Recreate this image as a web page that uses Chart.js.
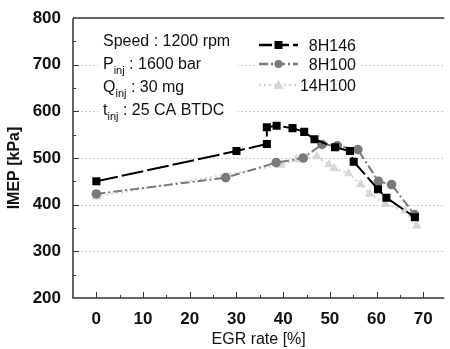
<!DOCTYPE html>
<html>
<head>
<meta charset="utf-8">
<script src="https://cdn.jsdelivr.net/npm/chart.js@4.4.1/dist/chart.umd.min.js"></script>
<style>
  html, body { margin: 0; padding: 0; background: #fff; }
  #wrap { width: 450px; height: 349px; position: relative; }
</style>
</head>
<body>
<div id="wrap"><canvas id="imepChart"></canvas></div>
<script>
// EGR rate [%] vs IMEP [kPa]
const egr8H146 = [0, 30, 36.5, 36.5, 38.6, 42, 44.5, 46.7, 51.1, 54.3, 55.1, 60.3, 62.1, 68.2];
const imep8H146 = [450, 515, 530, 566, 569, 564, 556, 540, 523, 515, 492, 433, 415, 373];

const egr8H100 = [0, 27.7, 38.5, 44.3, 48.3, 51.6, 56, 60.4, 63.2, 68.1];
const imep8H100 = [423, 458, 490, 500, 529, 526, 518, 450, 443, 379];

const egr14H100 = [0, 39.5, 42.8, 47.2, 49.8, 50.9, 54, 56.6, 58.5, 61.9, 66.1, 68.6];
const imep14H100 = [417, 485, 497, 503, 486, 478, 467, 444, 423, 401, 387, 355];

const seriesNames = ['8H146', '8H100', '14H100'];
const xTicks = [0, 10, 20, 30, 40, 50, 60, 70];
const yTicks = [200, 300, 400, 500, 600, 700, 800];
const conditions = [
    ['Speed : 1200 rpm', '', ''],
    ['P', 'inj', ' : 1600 bar'],
    ['Q', 'inj', ' : 30 mg'],
    ['t', 'inj', ' : 25 CA BTDC'],
];

const toPoints = (xs, ys) => xs.map((x, i) => ({ x, y: ys[i] }));
const FONT = "'Liberation Sans', Arial, sans-serif";

// ticks inside the frame, dotted grid, frame, legend and the text block
const decorPlugin = {
    id: 'decor',
    beforeDatasetsDraw(chart) {
        const { ctx, chartArea: a, scales: { x, y } } = chart;
        ctx.save();
        // dotted grid
        ctx.strokeStyle = '#c8c8c8';
        ctx.lineWidth = 1;
        ctx.setLineDash([2, 2]);
        yTicks.slice(1, -1).forEach(v => {
            const py = Math.round(y.getPixelForValue(v)) + 0.5;
            ctx.beginPath(); ctx.moveTo(a.left, py); ctx.lineTo(a.right, py); ctx.stroke();
        });
        ctx.setLineDash([]);

        // white boxes behind the text
        ctx.fillStyle = '#fff';
        ctx.fillRect(98, 28, 140, 95);
        ctx.fillRect(255, 32, 106, 64);

        // conditions text
        ctx.fillStyle = '#111';
        ctx.textBaseline = 'alphabetic';
        ctx.textAlign = 'left';
        conditions.forEach((c, i) => {
            const by = 46 + i * 23;
            let px = 103;
            ctx.font = `16px ${FONT}`;
            ctx.fillText(c[0], px, by);
            px += ctx.measureText(c[0]).width;
            if (c[1]) {
                ctx.font = `11px ${FONT}`;
                ctx.fillText(c[1], px, by + 5);
                px += ctx.measureText(c[1]).width;
                ctx.font = `16px ${FONT}`;
                ctx.fillText(c[2], px, by);
            }
        });

        // legend
        chart.data.datasets.forEach((ds, i) => {
            const ly = [45, 64, 85][i];
            ctx.strokeStyle = ds.borderColor;
            ctx.lineWidth = ds.borderWidth + 0.5;
            ctx.setLineDash([10, 3, 2, 3].length === ds.borderDash.length ? ds.borderDash : (i === 0 ? [13, 4] : ds.borderDash));
            ctx.beginPath(); ctx.moveTo(259, ly); ctx.lineTo(298, ly); ctx.stroke();
            ctx.setLineDash([]);
            ctx.fillStyle = ds.pointBackgroundColor;
            const r = 4;
            ctx.beginPath();
            if (ds.pointStyle === 'rect') ctx.rect(278.5 - r, ly - r, 2 * r, 2 * r);
            else if (ds.pointStyle === 'circle') ctx.arc(278.5, ly, r, 0, Math.PI * 2);
            else { ctx.moveTo(278.5, ly - 5); ctx.lineTo(283.5, ly + 4); ctx.lineTo(273.5, ly + 4); ctx.closePath(); }
            ctx.fill();
            ctx.fillStyle = '#111';
            ctx.font = `16px ${FONT}`;
            ctx.textAlign = 'right';
            ctx.fillText(ds.label, 356, ly + 6);
            ctx.textAlign = 'left';
        });
        ctx.restore();
    },
    afterDraw(chart) {
        const { ctx, chartArea: a, scales: { x, y } } = chart;
        ctx.save();
        ctx.strokeStyle = '#333';
        ctx.lineWidth = 1.5;
        // frame: left, bottom, top
        ctx.beginPath();
        ctx.moveTo(a.left, a.top); ctx.lineTo(a.left, a.bottom); ctx.lineTo(a.right, a.bottom);
        ctx.moveTo(a.left, a.top); ctx.lineTo(a.right, a.top);
        ctx.stroke();
        // ticks pointing in
        ctx.lineWidth = 1;
        for (let v = 0; v <= 70; v += 5) {
            const px = Math.round(x.getPixelForValue(v)) + 0.5;
            const len = v % 10 === 0 ? 6 : 3;
            ctx.beginPath(); ctx.moveTo(px, a.bottom); ctx.lineTo(px, a.bottom - len); ctx.stroke();
        }
        for (let v = 250; v <= 750; v += 50) {
            const py = Math.round(y.getPixelForValue(v)) + 0.5;
            const len = v % 100 === 0 ? 6 : 3;
            ctx.beginPath(); ctx.moveTo(a.left, py); ctx.lineTo(a.left + len, py); ctx.stroke();
        }
        // y title
        ctx.fillStyle = '#111';
        ctx.font = `bold 16px ${FONT}`;
        ctx.textAlign = 'center';
        ctx.textBaseline = 'middle';
        ctx.translate(15, 168);
        ctx.rotate(-Math.PI / 2);
        ctx.fillText('IMEP [kPa]', 0, 0);
        ctx.restore();
    },
};

const ctx = document.getElementById('imepChart').getContext('2d');
new Chart(ctx, {
    type: 'scatter',
    data: {
        datasets: [
            {
                label: seriesNames[0],
                data: toPoints(egr8H146, imep8H146),
                showLine: true,
                borderColor: '#000',
                borderWidth: 2,
                borderDash: [22, 4],
                pointStyle: 'rect',
                pointRadius: 5.7,
                pointBackgroundColor: '#000',
                pointBorderWidth: 0,
                order: 1,
            },
            {
                label: seriesNames[1],
                data: toPoints(egr8H100, imep8H100),
                showLine: true,
                borderColor: '#7a7a7a',
                borderWidth: 2,
                borderDash: [9, 3, 2, 3],
                pointStyle: 'circle',
                pointRadius: 4.8,
                pointBackgroundColor: '#7a7a7a',
                pointBorderWidth: 0,
                order: 2,
            },
            {
                label: seriesNames[2],
                data: toPoints(egr14H100, imep14H100),
                showLine: true,
                borderColor: '#d6d6d6',
                borderWidth: 2,
                borderDash: [2, 3],
                pointStyle: 'triangle',
                pointRadius: 5.5,
                pointBackgroundColor: '#d6d6d6',
                pointBorderWidth: 0,
                order: 3,
            },
        ],
    },
    options: {
        responsive: true,
        maintainAspectRatio: false,
        animation: false,
        layout: { padding: { top: 18, right: 0, left: 0, bottom: 0 } },
        plugins: {
            legend: { display: false },
            tooltip: { enabled: false },
        },
        scales: {
            x: {
                type: 'linear',
                min: -5,
                max: 74.5,
                afterFit: s => { s.height = 51; },
                afterBuildTicks: s => { s.ticks = xTicks.map(v => ({ value: v })); },
                grid: { display: false },
                border: { display: false },
                ticks: {
                    font: { size: 17, weight: 'bold', family: FONT },
                    color: '#111',
                    padding: 3,
                },
                title: {
                    display: true,
                    text: 'EGR rate [%]',
                    font: { size: 16, family: FONT },
                    color: '#111',
                    padding: { top: 4, bottom: 0 },
                },
            },
            y: {
                type: 'linear',
                min: 200,
                max: 800,
                afterFit: s => { s.width = 73; },
                afterBuildTicks: s => { s.ticks = yTicks.map(v => ({ value: v })); },
                grid: { display: false },
                border: { display: false },
                ticks: {
                    font: { size: 17, weight: 'bold', family: FONT },
                    color: '#111',
                    padding: 4,
                },
            },
        },
    },
    plugins: [decorPlugin],
});
</script>
</body>
</html>
